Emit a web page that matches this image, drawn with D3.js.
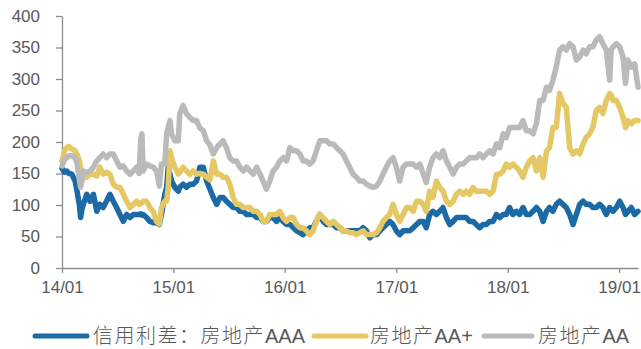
<!DOCTYPE html>
<html>
<head>
<meta charset="utf-8">
<script src="https://cdn.jsdelivr.net/npm/d3@7"></script>
<style>
  body { margin: 0; background: #fff; }
  svg { display: block; }
</style>
</head>
<body>
<svg id="chart" width="641" height="349"></svg>
<script>
// Observation dates (roughly every 11 days)
const dates = [
  "2014-01-01","2014-01-09","2014-01-16","2014-01-24","2014-02-02","2014-02-13","2014-02-20","2014-02-27",
  "2014-03-03","2014-03-08","2014-03-12","2014-03-23","2014-04-03","2014-04-14","2014-04-25","2014-05-05",
  "2014-05-16","2014-05-27","2014-06-07","2014-06-18","2014-06-29","2014-07-10","2014-07-21","2014-08-01",
  "2014-08-12","2014-08-23","2014-09-03","2014-09-11","2014-09-16","2014-09-20","2014-09-24","2014-10-05",
  "2014-10-16","2014-10-27","2014-11-07","2014-11-16","2014-11-23","2014-12-04","2014-12-10","2014-12-15",
  "2014-12-21","2014-12-26","2015-01-06","2015-01-17","2015-01-22","2015-02-02","2015-02-13","2015-02-24",
  "2015-03-07","2015-03-18","2015-03-29","2015-04-09","2015-04-20","2015-05-01","2015-05-12","2015-05-23",
  "2015-06-03","2015-06-13","2015-06-24","2015-07-05","2015-07-16","2015-07-27","2015-08-07","2015-08-18",
  "2015-08-29","2015-09-09","2015-09-20","2015-10-01","2015-10-12","2015-10-22","2015-11-02","2015-11-13",
  "2015-11-24","2015-12-05","2015-12-16","2015-12-27","2016-01-07","2016-01-18","2016-01-29","2016-02-09",
  "2016-02-20","2016-03-01","2016-03-12","2016-03-23","2016-04-03","2016-04-14","2016-04-25","2016-05-06",
  "2016-05-17","2016-05-28","2016-06-08","2016-06-19","2016-06-30","2016-07-10","2016-07-21","2016-08-01",
  "2016-08-12","2016-08-23","2016-09-03","2016-09-14","2016-09-25","2016-10-06","2016-10-17","2016-10-28",
  "2016-11-08","2016-11-18","2016-11-29","2016-12-10","2016-12-21","2017-01-01","2017-01-12","2017-01-23",
  "2017-02-03","2017-02-14","2017-02-25","2017-03-08","2017-03-19","2017-03-30","2017-04-09","2017-04-20",
  "2017-05-01","2017-05-12","2017-05-23","2017-06-03","2017-06-14","2017-06-25","2017-07-06","2017-07-17",
  "2017-07-28","2017-08-08","2017-08-18","2017-08-29","2017-09-09","2017-09-20","2017-10-01","2017-10-12",
  "2017-10-23","2017-11-03","2017-11-14","2017-11-25","2017-12-06","2017-12-17","2017-12-27","2018-01-07",
  "2018-01-18","2018-01-29","2018-02-09","2018-02-20","2018-03-03","2018-03-14","2018-03-25","2018-04-05",
  "2018-04-16","2018-04-27","2018-05-08","2018-05-18","2018-05-29","2018-06-09","2018-06-20","2018-07-01",
  "2018-07-12","2018-07-23","2018-08-03","2018-08-14","2018-08-25","2018-09-05","2018-09-15","2018-09-26",
  "2018-10-07","2018-10-18","2018-10-29","2018-11-09","2018-11-20","2018-12-01","2018-12-06","2018-12-12",
  "2018-12-23","2019-01-03","2019-01-14","2019-01-22","2019-01-30","2019-02-10","2019-02-21","2019-03-04"
];

// Credit spread, real estate AAA (bp)
const spreadAAA = [
  158,152,154,150,149,138,120,100, 80, 95,101,117,106,117, 90,101,
   96,106,117,106, 96, 85, 74, 85, 80, 85, 85, 85, 86, 84, 85, 80,
   74, 72, 72, 69, 85,117,128,160,149,138,128,122,128,133,128,133,
  133,138,160,160,138,125,112,101,112,112,106,101, 96, 96, 90, 90,
   85, 85, 85, 80, 80, 74, 74, 80, 80, 74, 80, 74, 69, 69, 64, 59,
   56, 53, 59, 64, 64, 74, 85, 74, 69, 69, 69, 64, 64, 59, 59, 59,
   59, 59, 59, 64, 59, 48, 53, 53, 59, 64, 69, 74, 69, 59, 53, 59,
   59, 59, 64, 69, 74, 74, 64, 85, 90, 85, 90, 96, 80, 69, 74, 80,
   80, 80, 80, 74, 74, 69, 64, 69, 69, 74, 74, 85, 80, 85, 85, 96,
   85, 90, 85, 96, 85, 85, 90, 96, 90, 74, 90, 96, 90,101,106,101,
   96, 85, 69, 85,101,106,101,101, 96, 96,101, 96, 85, 96, 93, 90,
   96,106, 96, 85, 90, 96, 85, 90
];

// Credit spread, real estate AA+ (bp)
const spreadAAPlus = [
  170,185,191,193,189,186,180,170,160,150,149,144,149,149,146,160,
  149,152,149,133,128,128,117,106, 96,101,106,101,102,104,106,106,
   96, 90, 74, 70, 96,106,106,128,186,175,160,149,152,160,154,149,
  154,149,150,149,144,140,170,149,149,144,144,133,112,101,101, 96,
   96, 96, 90, 90, 85, 74, 74, 85, 85, 85, 90, 80, 74, 80, 80, 69,
   64, 64, 59, 53, 59, 74, 85, 80, 74, 69, 74, 69, 64, 59, 59, 56,
   56, 53, 56, 59, 53, 53, 53, 56, 64, 74, 80, 85,101, 85, 74, 85,
   96, 96, 90,106,106,101, 90,122,112,138,128,122,106,101,106,117,
  122,117,122,117,128,122,122,122,122,117,122,149,149,154,165,160,
  165,160,154,144,160,170,175,154,175,144,186,191,223,223,277,261,
  255,191,181,186,181,197,207,213,223,250,255,245,266,277,275,266,
  266,255,239,223,234,229,234,234
];

// Credit spread, real estate AA (bp)
const spreadAA = [
  162,172,175,178,178,175,165,140,128,140,154,152,154,160,170,175,
  181,175,181,181,170,160,162,154,149,154,160,150,205,213,154,165,
  162,160,154,130,165,165,213,223,234,213,202,202,245,258,245,239,
  234,234,222,218,202,195,181,191,197,202,191,175,170,170,160,154,
  160,154,149,160,149,138,125,138,154,160,170,175,170,191,186,186,
  181,170,170,165,170,186,202,202,202,197,197,191,186,181,170,160,
  149,144,138,138,133,130,128,130,138,149,160,170,175,160,138,160,
  165,165,165,160,165,149,136,160,175,181,175,186,170,160,149,160,
  165,165,170,175,175,175,181,175,181,186,181,197,191,213,207,223,
  223,223,223,234,218,218,213,229,266,266,287,282,298,319,346,351,
  346,356,351,330,335,346,340,351,351,362,367,356,346,298,346,351,
  356,351,335,293,330,319,324,287
];

const yTicks = [0, 50, 100, 150, 200, 250, 300, 350, 400];
const xTicks = ["2014-01-01", "2015-01-01", "2016-01-01", "2017-01-01", "2018-01-01", "2019-01-01"];
// Legend labels split into the Chinese part and the rating suffix
const seriesPrefix = ["信用利差：房地产", "房地产", "房地产"];
const seriesSuffix = ["AAA", "AA+", "AA"];
const seriesColors = ["#1b6aa6", "#e5c864", "#bababa"];

const parse = d3.timeParse("%Y-%m-%d");
const svg = d3.select("#chart");

const x = d3.scaleTime()
  .domain([parse("2014-01-01"), parse("2019-03-04")])
  .range([62, 638]);
const y = d3.scaleLinear().domain([0, 400]).range([268, 16]);

const axisColor = "#8c8c8c";
const textColor = "#595959";

// Y axis
const gy = svg.append("g")
  .attr("transform", "translate(62,0)")
  .call(d3.axisLeft(y).tickValues(yTicks).tickSize(6).tickSizeOuter(0).tickPadding(16));
// X axis
const gx = svg.append("g")
  .attr("transform", "translate(0,268)")
  .call(d3.axisBottom(x).tickValues(xTicks.map(parse)).tickSize(5).tickSizeOuter(0)
    .tickPadding(8).tickFormat(d3.timeFormat("%y/%m")));

[gx, gy].forEach(g => {
  g.selectAll("path.domain").attr("stroke", axisColor).attr("stroke-width", 1.3);
  g.selectAll(".tick line").attr("stroke", axisColor).attr("stroke-width", 1.3);
  g.selectAll(".tick text")
    .attr("fill", textColor)
    .style("font-family", "'Liberation Sans', Arial, sans-serif")
    .style("font-size", "17px");
});

// Series lines (AAA first, AA on top)
const series = [spreadAAA, spreadAAPlus, spreadAA];
const line = d3.line()
  .x(d => x(d.date))
  .y(d => y(d.value));

series.forEach((vals, i) => {
  const pts = vals.map((v, j) => ({ date: parse(dates[j]), value: v }));
  svg.append("path")
    .datum(pts)
    .attr("fill", "none")
    .attr("stroke", seriesColors[i])
    .attr("stroke-width", 5.5)
    .attr("stroke-linejoin", "round")
    .attr("stroke-linecap", "round")
    .attr("d", line);
});

// Legend
const legendY = 336;
const legendItems = [
  { x0: 35, x1: 87, tx: 93 },
  { x0: 314, x1: 366, tx: 370 },
  { x0: 484, x1: 532, tx: 538 }
];
legendItems.forEach((it, i) => {
  svg.append("line")
    .attr("x1", it.x0).attr("x2", it.x1)
    .attr("y1", legendY).attr("y2", legendY)
    .attr("stroke", seriesColors[i])
    .attr("stroke-width", 5)
    .attr("stroke-linecap", "round");
  const t = svg.append("text")
    .attr("x", it.tx).attr("y", legendY)
    .attr("dy", "0.36em")
    .attr("fill", textColor)
    .style("font-size", "20px");
  t.append("tspan")
    .style("font-family", "'Noto Sans CJK SC', sans-serif")
    .style("font-weight", 300)
    .style("letter-spacing", "1.5px")
    .text(seriesPrefix[i]);
  t.append("tspan")
    .style("font-family", "'Liberation Sans', Arial, sans-serif")
    .text(seriesSuffix[i]);
});
</script>
</body>
</html>
